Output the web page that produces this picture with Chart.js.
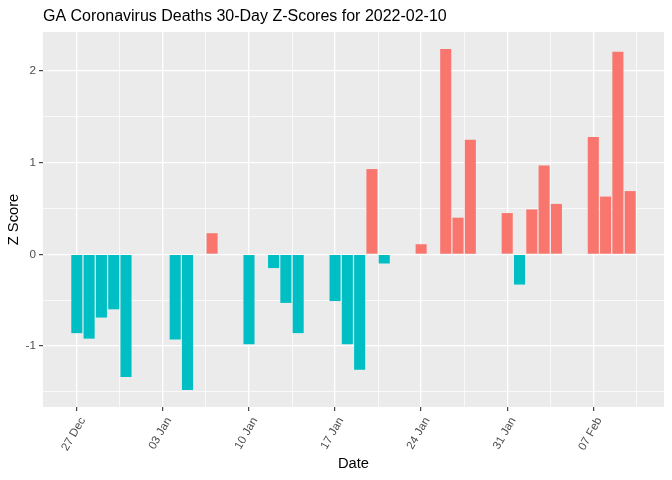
<!DOCTYPE html>
<html>
<head>
<meta charset="utf-8">
<script src="https://cdn.jsdelivr.net/npm/chart.js@4"></script>
<style>
  html, body { margin: 0; padding: 0; background: #ffffff; }
  #wrap { width: 672px; height: 480px; position: relative; }
</style>
</head>
<body>
<div id="wrap"><canvas id="c" width="672" height="480"></canvas></div>
<script>
// ---- data ----
const chartTitle = 'GA Coronavirus Deaths 30-Day Z-Scores for 2022-02-10';
const startDate = '2021-12-27';
const dates = ['2021-12-27','2021-12-28','2021-12-29','2021-12-30','2021-12-31',
  '2022-01-04','2022-01-05','2022-01-07','2022-01-10','2022-01-12','2022-01-13',
  '2022-01-14','2022-01-17','2022-01-18','2022-01-19','2022-01-20','2022-01-21',
  '2022-01-24','2022-01-26','2022-01-27','2022-01-28','2022-01-31','2022-02-01',
  '2022-02-02','2022-02-03','2022-02-04','2022-02-07','2022-02-08','2022-02-09',
  '2022-02-10'];
const zScores = [-0.86,-0.92,-0.69,-0.60,-1.34,
  -0.93,-1.48,0.23,-0.98,-0.15,-0.53,
  -0.86,-0.51,-0.98,-1.26,0.93,-0.10,
  0.11,2.24,0.40,1.25,0.45,-0.33,
  0.49,0.97,0.55,1.28,0.63,2.21,
  0.69];
const xTickLabels = ['27 Dec','03 Jan','10 Jan','17 Jan','24 Jan','31 Jan','07 Feb'];
const yTickValues = [-1.5,-1,-0.5,0,0.5,1,1.5,2];

const DAY = 86400000;
const t0 = Date.parse(startDate + 'T00:00:00Z');
const dayIndex = d => Math.round((Date.parse(d + 'T00:00:00Z') - t0) / DAY);
const points = dates.map((d, i) => ({ x: dayIndex(d), y: zScores[i] }));
const colors = zScores.map(v => v > 0 ? '#F8766D' : '#00BFC4');

const xTickValues = [];
for (let i = 0; i <= 13; i++) xTickValues.push(i * 3.5);

const isMajorX = v => Math.abs(v / 7 - Math.round(v / 7)) < 1e-6;
const isMajorY = v => Math.abs(v - Math.round(v)) < 1e-6;

const FONT = "'Liberation Sans', Arial, sans-serif";

const panelBg = {
  id: 'panelBg',
  beforeDraw(chart) {
    const {ctx, chartArea: a} = chart;
    ctx.save();
    ctx.fillStyle = '#EBEBEB';
    ctx.fillRect(a.left, a.top, a.right - a.left, a.bottom - a.top);
    ctx.restore();
  }
};
const titlePlugin = {
  id: 'ggTitle',
  afterDraw(chart) {
    const ctx = chart.ctx;
    ctx.save();
    ctx.fillStyle = '#000000';
    ctx.font = "16px " + FONT;
    ctx.textAlign = 'left';
    ctx.textBaseline = 'alphabetic';
    ctx.fillText(chartTitle, chart.chartArea.left, 21);
    ctx.restore();
  }
};

new Chart(document.getElementById('c'), {
  type: 'bar',
  data: {
    datasets: [{
      data: points,
      backgroundColor: colors,
      borderWidth: 0,
      categoryPercentage: 1.0,
      barPercentage: 0.9
    }]
  },
  plugins: [panelBg, titlePlugin],
  options: {
    responsive: false,
    animation: false,
    devicePixelRatio: 1,
    layout: { padding: { top: 32, right: 8, left: 0, bottom: 0 } },
    plugins: { legend: { display: false }, tooltip: { enabled: false }, title: { display: false } },
    scales: {
      x: {
        type: 'linear',
        offset: false,
        min: -2.75,
        max: 47.75,
        afterBuildTicks: s => { s.ticks = xTickValues.map(v => ({ value: v })); },
        afterFit: s => { s.height = 73; },
        border: { display: false },
        grid: {
          offset: false,
          color: '#FFFFFF',
          lineWidth: c => (c.tick && isMajorX(c.tick.value)) ? 1.3 : 0.7,
          drawTicks: true,
          tickLength: 4,
          tickWidth: 1.1,
          tickColor: c => (c.tick && isMajorX(c.tick.value)) ? '#333333' : 'rgba(0,0,0,0)'
        },
        ticks: {
          autoSkip: false,
          maxRotation: 60,
          minRotation: 60,
          padding: 4,
          labelOffset: 6,
          color: '#4D4D4D',
          font: { family: FONT, size: 11.5 },
          callback: v => isMajorX(v) ? xTickLabels[Math.round(v / 7)] : ''
        },
        title: {
          display: true,
          text: 'Date',
          color: '#000000',
          font: { family: FONT, size: 14.7 },
          padding: { top: 0, bottom: 7 }
        }
      },
      y: {
        type: 'linear',
        min: -1.666,
        max: 2.426,
        afterBuildTicks: s => { s.ticks = yTickValues.map(v => ({ value: v })); },
        afterFit: s => { s.width = 43; },
        border: { display: false },
        grid: {
          color: '#FFFFFF',
          lineWidth: c => (c.tick && isMajorY(c.tick.value)) ? 1.3 : 0.7,
          drawTicks: true,
          tickLength: 4,
          tickWidth: 1.1,
          tickColor: c => (c.tick && isMajorY(c.tick.value)) ? '#333333' : 'rgba(0,0,0,0)'
        },
        ticks: {
          autoSkip: false,
          padding: 3,
          color: '#4D4D4D',
          font: { family: FONT, size: 11.7 },
          callback: v => isMajorY(v) ? String(Math.round(v)) : ''
        },
        title: {
          display: true,
          text: 'Z Score',
          color: '#000000',
          font: { family: FONT, size: 14.7 },
          padding: { top: 5, bottom: 0 }
        }
      }
    }
  }
});
</script>
</body>
</html>
